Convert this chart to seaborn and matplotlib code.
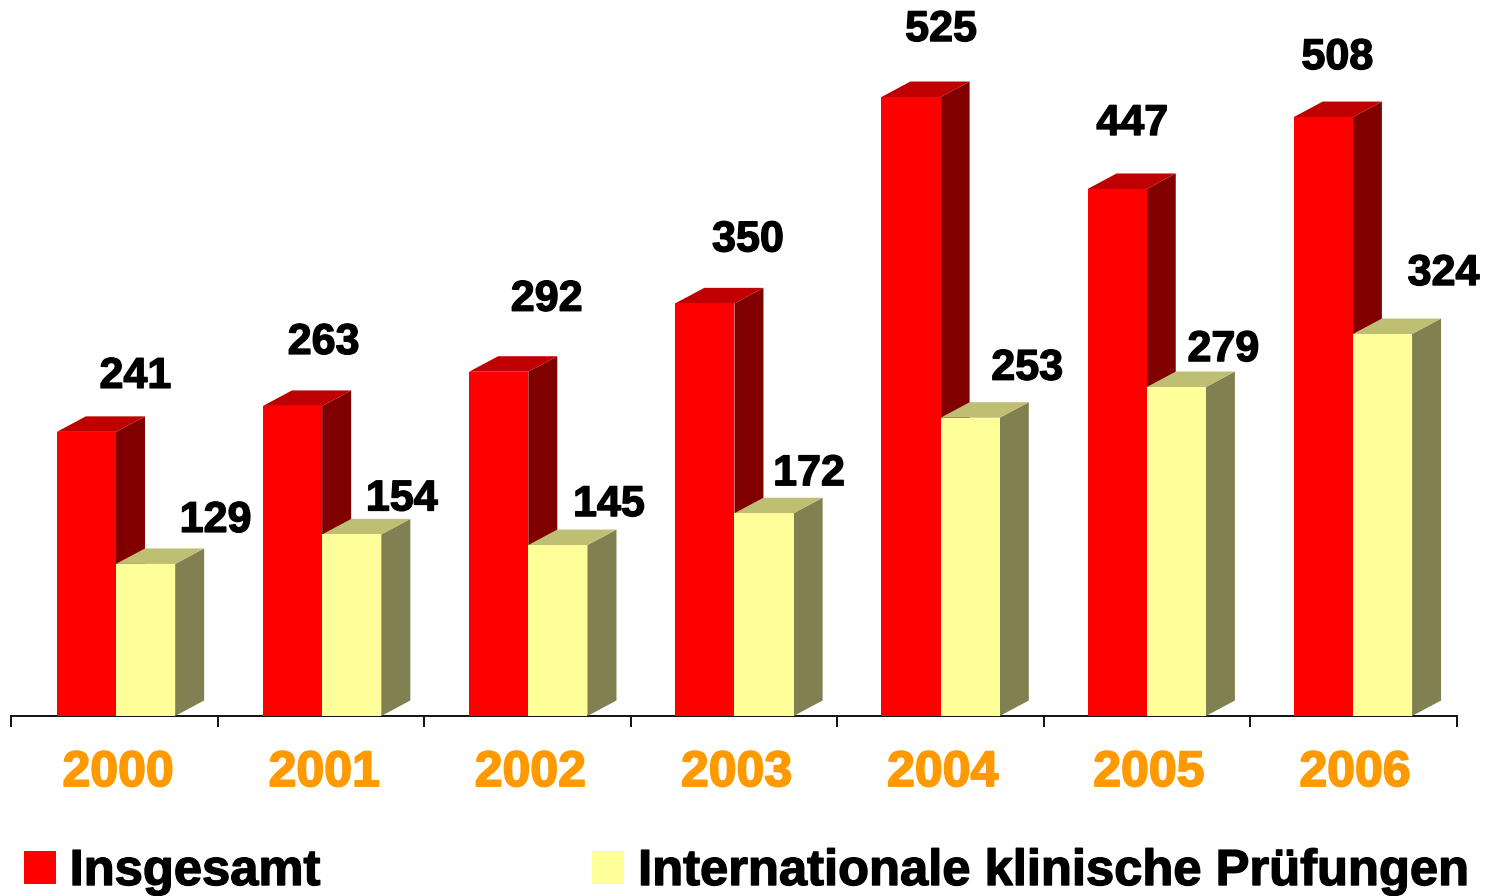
import matplotlib
matplotlib.use("Agg")
import matplotlib.pyplot as plt
import matplotlib.patheffects as pe
import pandas as pd
import seaborn as sns

years = ["2000", "2001", "2002", "2003", "2004", "2005", "2006"]
total = [241, 263, 292, 350, 525, 447, 508]
international = [129, 154, 145, 172, 253, 279, 324]
series_names = ["Insgesamt", "Internationale klinische Prüfungen"]

# label nudges in pixels relative to each front-bar centre / top
total_nudge = [(49, 55), (31, 63), (48, 72), (43, 63), (30, 67), (15, 65), (14, 59)]
intl_nudge = [(70, 43), (50, 35), (51, 40), (45, 39), (57, 49), (47, 37), (61, 60)]

W, H = 1486, 896
BASE_PX, LEFT_PX, RIGHT_PX = 716, 11, 1457
JOIN_PX = 116
PX_PER_UNIT = 1.179
PX_PER_CAT = 206.15
TICK_STEP_PX = 206.57
DEPTH_X, DEPTH_Y = 29, 15.5

sns.set_theme(style="white")
plt.rcParams["font.family"] = ["Liberation Sans", "DejaVu Sans"]

df = pd.DataFrame({
    "year": years * 2,
    "value": total + international,
    "series": [series_names[0]] * len(years) + [series_names[1]] * len(years),
})

fig = plt.figure(figsize=(W / 100, H / 100), dpi=100, facecolor="white")
ax = fig.add_axes([LEFT_PX / W, 1 - BASE_PX / H, (RIGHT_PX - LEFT_PX) / W, BASE_PX / H])
front = ["#FF0000", "#FFFF99"]
side = ["#800000", "#808050"]
top = ["#C00000", "#BFBF73"]

sns.barplot(data=df, x="year", y="value", hue="series", palette=front, width=0.574,
            gap=0, saturation=1, dodge=True, ax=ax, legend=True, linewidth=0)

ax.set_xlim((LEFT_PX - JOIN_PX) / PX_PER_CAT, (RIGHT_PX - JOIN_PX) / PX_PER_CAT)
ax.set_ylim(0, BASE_PX / PX_PER_UNIT)
ax.set_xlabel("")
ax.set_ylabel("")
ax.set_yticks([])
sns.despine(ax=ax, left=True, top=True, right=True)
ax.spines["bottom"].set_linewidth(1.4)
ax.spines["bottom"].set_color("#111111")

dx = DEPTH_X / PX_PER_CAT
dy = DEPTH_Y / PX_PER_UNIT
bars = [[], []]
for s, container in enumerate(ax.containers):
    for bar in container:
        bars[s].append(bar)
        bar.set_zorder(5)
        bar.set_clip_on(False)
        x0, x1 = bar.get_x(), bar.get_x() + bar.get_width()
        h = bar.get_height()
        z = 2 + s
        ax.fill([x1, x1 + dx, x1 + dx, x1], [0, dy, h + dy, h], color=side[s], lw=0, zorder=z)
        ax.fill([x0, x0 + dx, x1 + dx, x1], [h, h + dy, h + dy, h], color=top[s], lw=0, zorder=z)

# ticks sit on category boundaries, labels at the category centres
n = len(years)
ax.set_xticks([i + 0.01 for i in range(n)], labels=years)
ax.tick_params(axis="x", which="major", length=0, pad=24.5, labelsize=36, labelcolor="#FF9900")
ax.set_xticks([(LEFT_PX + TICK_STEP_PX * i - JOIN_PX) / PX_PER_CAT for i in range(n + 1)], minor=True)
ax.tick_params(axis="x", which="minor", length=8, width=1.4, color="#111111", direction="out", bottom=True)
stroke = [pe.withStroke(linewidth=1.3, foreground="#FF9900")]
for lab in ax.get_xticklabels():
    lab.set_fontweight("bold")
    lab.set_path_effects(stroke)

black_stroke = [pe.withStroke(linewidth=1.0, foreground="black")]
for s, (vals, nudge) in enumerate(zip([total, international], [total_nudge, intl_nudge])):
    for bar, v, (nx, ny) in zip(bars[s], vals, nudge):
        ax.annotate(str(v), xy=(bar.get_x() + bar.get_width() / 2, v), xytext=(nx * 0.72, ny * 0.72),
                    textcoords="offset points", ha="center", va="center", fontsize=31,
                    fontweight="bold", color="black", path_effects=black_stroke,
                    annotation_clip=False, zorder=8)

handles, labels = ax.get_legend_handles_labels()
leg = ax.legend(handles, labels, ncol=2, frameon=False, loc="lower left",
                bbox_to_anchor=(24 / W, 0 / H), bbox_transform=fig.transFigure,
                prop={"family": "Liberation Sans", "weight": "bold", "size": 36.5},
                handlelength=0.63, handleheight=0.63, handletextpad=0.27, columnspacing=5.36,
                borderpad=0, borderaxespad=0, labelcolor="black")
for t in leg.get_texts():
    t.set_path_effects(black_stroke)

fig.savefig("out.png", dpi=100, facecolor="white")
